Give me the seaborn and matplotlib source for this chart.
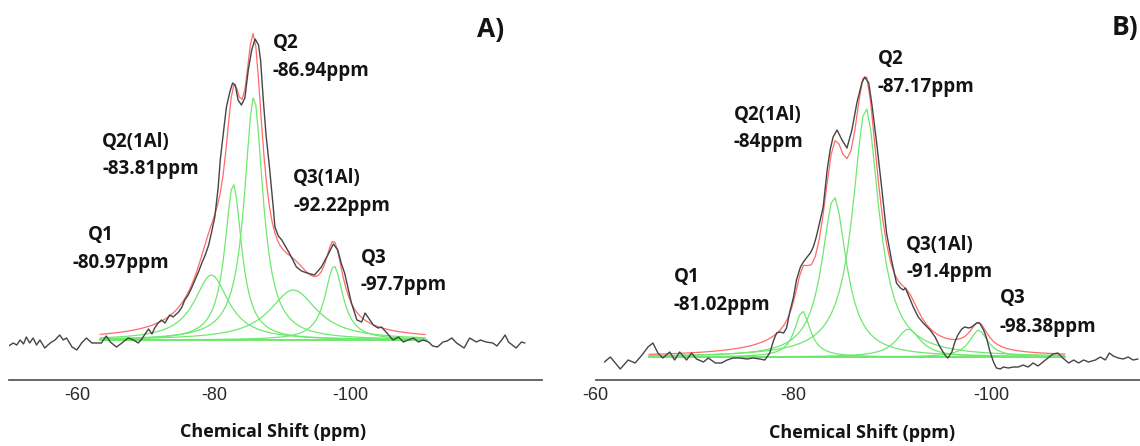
import numpy as np
import pandas as pd
import matplotlib
matplotlib.use("Agg")
import matplotlib.pyplot as plt
import seaborn as sns

# ---------------- panel A ----------------
# experimental 29Si spectrum, read off the figure (ppm, intensity)
a_ppm = [-49.9, -50.6, -51.1, -51.6, -52.1, -52.5, -53.0, -53.5, -54.0, -54.5,
         -55.2, -56.0, -56.7, -57.4, -57.9, -58.4, -59.2, -59.9, -60.6, -61.3,
         -62.1, -63.0, -63.5, -64.2, -64.8, -65.7, -66.5, -67.4, -68.2, -68.9,
         -69.4, -69.9, -70.4, -70.9, -71.3, -71.8, -72.3, -72.8, -73.5, -74.0,
         -74.8, -75.3, -75.7, -76.2, -76.7, -77.2, -77.7, -78.2, -78.7, -79.2,
         -79.6, -80.1, -80.6, -80.9, -81.4, -81.8, -82.3, -82.7, -83.1, -83.5,
         -84.0, -84.5, -85.0, -85.5, -86.0, -86.5, -86.8, -87.2, -87.6, -88.1,
         -88.65, -88.9, -89.4, -89.9, -91.0, -92.05, -92.8, -93.6, -94.7, -95.7,
         -96.8, -97.45, -98.1, -98.6, -99.1, -99.6, -100.1, -100.9, -101.6, -102.1,
         -102.6, -103.3, -104.0, -104.5, -105.3, -105.8, -106.2, -107.0, -107.7, -108.4,
         -109.2, -109.9, -110.6, -111.4, -112.0, -112.7, -113.5, -114.1, -114.8, -115.5,
         -116.6, -117.4, -118.4, -119.0, -119.8, -120.8, -121.4, -122.1, -122.6, -123.1,
         -124.2, -125.0, -125.5]
a_int = [-6, -3, -5, 0, -4, 3, -3, 2, -5, 0,
         -8, -3, 0, 5, 0, 2, -7, -10, -3, 2,
         -3, -3, -3, 4, -2, -7, -3, 2, 0, -3,
         1, 6, 11, 6, 12, 17, 20, 17, 25, 23,
         28, 33, 40, 45, 52, 60, 68, 77, 85, 95,
         107, 123, 153, 180, 210, 233, 248, 257, 255, 240,
         235, 242, 270, 290, 301, 295, 280, 240, 205, 173,
         133, 113, 104, 100, 87, 73, 69, 67, 65, 73,
         87, 96, 90, 77, 67, 52, 37, 20, 18, 27,
         22, 15, 12, 13, 7, 3, 0, 3, -2, 0,
         2, -2, 0, -2, -6, -7, -2, -1, 2, -3,
         -8, 2, -2, 0, -2, -3, -6, 0, 5, -2,
         -8, -2, -3]

# fitted components (centre ppm, height, FWHM ppm)
a_centre = [-79.6, -82.8, -85.8, -91.6, -97.55]
a_height = [65, 156, 243, 50, 74]
a_fwhm = [6.1, 3.0, 3.3, 8.5, 3.2]
a_fit_lim = (-63.3, -111.2)
a_site = ["Q1", "Q2(1Al)", "Q2", "Q3(1Al)", "Q3"]
a_shift = ["-80.97ppm", "-83.81ppm", "-86.94ppm", "-92.22ppm", "-97.7ppm"]

# ---------------- panel B ----------------
b_ppm = [-60.9, -61.5, -62.5, -63.3, -64.0, -64.7, -65.3, -65.8, -66.3, -66.8,
         -67.5, -68.0, -68.5, -69.2, -69.7, -70.2, -70.9, -71.4, -72.1, -72.7,
         -73.3, -73.9, -74.6, -75.3, -75.9, -76.6, -77.1, -77.6, -78.0, -78.3,
         -78.6, -79.0, -79.3, -79.6, -80.0, -80.3, -80.7, -81.0, -81.3, -81.7,
         -82.0, -82.3, -82.7, -83.0, -83.4, -83.7, -84.0, -84.4, -84.9, -85.4,
         -85.9, -86.4, -86.9, -87.2, -87.6, -87.9, -88.4, -88.9, -89.4, -89.9,
         -90.4, -90.8, -91.1, -91.3, -91.6, -92.1, -92.6, -93.1, -93.8, -94.3,
         -94.8, -95.3, -95.6, -96.0, -96.3, -96.6, -97.0, -97.3, -97.7, -98.0,
         -98.5, -98.8, -99.2, -99.5, -99.8, -100.2, -100.5, -100.9, -101.2, -101.7,
         -102.2, -102.7, -103.2, -103.7, -104.2, -104.7, -105.2, -105.7, -106.2, -106.7,
         -107.2, -107.8, -108.3, -108.8, -109.3, -109.8, -110.5, -111.0, -111.5, -111.9,
         -112.3, -112.8, -113.3, -113.8, -114.3, -114.8]
b_int = [-5, 0, -12, -3, -6, 2, 10, 14, 4, -1,
         5, -3, 5, -3, 4, -2, -5, -1, -6, -6,
         -3, -1, -1, -2, -1, -2, -3, 4, 17, 24,
         25, 24, 29, 44, 60, 77, 90, 95, 99, 104,
         110, 120, 137, 150, 187, 207, 220, 227, 217, 209,
         227, 254, 274, 280, 274, 254, 214, 170, 124, 97,
         74, 69, 67, 69, 62, 50, 40, 34, 27, 20,
         10, 2, -1, 5, 15, 22, 28, 30, 29, 30,
         34, 34, 27, 19, 7, -5, -11, -12, -10, -11,
         -10, -10, -8, -10, -6, -9, -5, -1, 3, 4,
         -1, -6, -3, -6, -3, -5, -3, 0, -3, 4,
         1, -1, -2, 0, -3, -2]

b_centre = [-80.9, -84.1, -87.3, -91.6, -98.7]
b_height = [46, 160, 249, 28, 27]
b_fwhm = [1.9, 3.0, 3.2, 3.0, 2.2]
b_fit_lim = (-65.4, -107.4)
b_site = ["Q1", "Q2(1Al)", "Q2", "Q3(1Al)", "Q3"]
b_shift = ["-81.02ppm", "-84ppm", "-87.17ppm", "-91.4ppm", "-98.38ppm"]


def components(centre, height, fwhm, lim):
    x = np.arange(lim[0], lim[1] - 0.01, -0.4)
    rows = []
    for name, c, h, w in zip(range(len(centre)), centre, height, fwhm):
        y = h / (1 + ((x - c) / (w / 2)) ** 2)
        rows.append(pd.DataFrame({"ppm": x, "I": y, "peak": name}))
    df = pd.concat(rows, ignore_index=True)
    fit = df.groupby("ppm", sort=False)["I"].sum().reset_index()
    return df, fit


sns.set_style("white")
plt.rcParams["font.family"] = ["Liberation Sans", "DejaVu Sans"]

W, H = 1140, 446
fig = plt.figure(figsize=(W / 100, H / 100), dpi=100)
axA = fig.add_axes([9.2 / W, (H - 380) / H, (542 - 9.2) / W, 380 / H])
axB = fig.add_axes([595.5 / W, (H - 380) / H, (W - 595.5) / W, 380 / H])

green = "#6fe86f"
red = "#ff6a6a"
black = "#454545"
txt = "#141414"

panels = [
    (axA, a_ppm, a_int, a_centre, a_height, a_fwhm, a_fit_lim, (-50, -128), (-40, 340)),
    (axB, b_ppm, b_int, b_centre, b_height, b_fwhm, b_fit_lim, (-60, -115), (-23, 357)),
]
for ax, px, py, c, h, w, lim, xl, yl in panels:
    comp, fit = components(c, h, w, lim)
    sns.lineplot(data=comp, x="ppm", y="I", units="peak", estimator=None,
                 color=green, lw=0.9, sort=False, ax=ax)
    ax.plot([lim[0], lim[1]], [0, 0], color=green, lw=1.4)
    sns.lineplot(data=fit, x="ppm", y="I", color=red, lw=0.9, sort=False, ax=ax)
    sns.lineplot(x=px, y=py, color=black, lw=1.0, sort=False, ax=ax)
    ax.set_xlim(*xl)
    ax.set_ylim(*yl)
    ax.set_yticks([])
    ax.set_ylabel("")
    for s in ["top", "left", "right"]:
        ax.spines[s].set_visible(False)
    ax.spines["bottom"].set_color("#5a5a5a")
    ax.spines["bottom"].set_linewidth(1.3)
    ax.set_xlabel("Chemical Shift (ppm)", fontfamily="Open Sans", fontweight="bold",
                  fontsize=13, color=txt)
    ax.tick_params(axis="x", which="both", direction="in", colors="#5a5a5a",
                   labelcolor="#2a2a2a", labelsize=13, pad=5)
    ax.tick_params(axis="x", which="major", length=6, width=1.2)
    ax.tick_params(axis="x", which="minor", length=3.5, width=1.0)

axA.set_xticks([-60, -80, -100, -120])
axA.set_xticklabels(["-60", "-80", "-100", ""])
axB.set_xticks([-60, -80, -100])
axB.set_xticklabels(["-60", "-80", "-100"])
axB.set_xticks(np.arange(-65, -115, -5), minor=True)
axA.xaxis.set_label_coords(0.496, -0.113)
axB.xaxis.set_label_coords(0.489, -0.116)

# peak annotations: (site label pos, shift label pos) in data units
a_pos = [(-61.5, 105, -59.3, 77), (-63.6, 198, -63.6, 171), (-88.6, 297, -88.6, 269),
         (-91.55, 162, -91.55, 134), (-101.5, 82, -101.5, 55)]
b_pos = [(-67.9, 80, -67.9, 52), (-73.95, 242, -73.95, 215), (-88.5, 298, -88.5, 270),
         (-91.4, 112, -91.4, 85), (-100.8, 59, -100.8, 30)]
font = dict(fontfamily="Open Sans", fontweight="bold", fontsize=13.5, color=txt,
            ha="left", va="center")
for ax, sites, shifts, pos in [(axA, a_site, a_shift, a_pos), (axB, b_site, b_shift, b_pos)]:
    for s, t, (x1, y1, x2, y2) in zip(sites, shifts, pos):
        ax.text(x1, y1, s, **font)
        ax.text(x2, y2, t, **font)

axA.text(-118.5, 311, "A)", fontfamily="Open Sans", fontweight="bold", fontsize=19,
         color=txt, ha="left", va="center")
axB.text(-112.1, 330, "B)", fontfamily="Open Sans", fontweight="bold", fontsize=19,
         color=txt, ha="left", va="center", clip_on=False)

fig.savefig("out.png", dpi=100)
